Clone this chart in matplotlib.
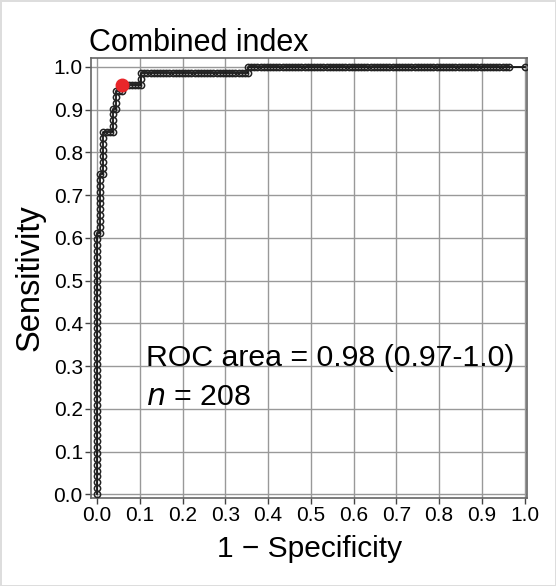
import numpy as np
import matplotlib.pyplot as plt

plt.rcParams['font.family'] = ['Liberation Sans', 'DejaVu Sans']

# Cases ranked by the combined index (highest first), run-length coded:
# label 1 = diseased, 0 = not diseased
run_label = [1, 0, 1, 0, 1, 0, 1, 0, 1, 0, 1, 0, 1, 0, 1, 0]
run_count = [44, 1, 10, 1, 7, 3, 4, 1, 3, 2, 1, 6, 2, 34, 1, 83]
tied_negatives = 5   # lowest scores, all tied -> one last step
cutoff_case = 69 + 8  # optimal cut-off (red point), cases above it
n_total = 208
roc_text = "ROC area = 0.98 (0.97-1.0)"

# Build the ROC points from the ranked outcomes
labels = np.repeat(run_label, run_count)
n_pos = labels.sum()
n_neg = len(labels) - n_pos + tied_negatives
tp = np.concatenate([[0], np.cumsum(labels), [n_pos]])
fp = np.concatenate([[0], np.cumsum(1 - labels), [n_neg]])
sens = tp / n_pos
fpr = fp / n_neg

fig = plt.figure(figsize=(5.56, 5.86), dpi=100)
fig.patch.set_edgecolor('#dddddd')
fig.patch.set_linewidth(2)
ax = fig.add_axes([0.164, 0.150, 0.784, 0.751])

ax.plot(fpr, sens, color='black', lw=1.2, marker='o', ms=4.5,
        mfc='none', mec='#222222', mew=1.1, zorder=3)
ax.plot(fpr[cutoff_case], sens[cutoff_case], 'o', color='#e8262a',
        ms=9, zorder=4)

ax.set_xlim(-0.014, 1.006)
ax.set_ylim(-0.009, 1.021)
ticks = np.round(np.arange(0, 1.01, 0.1), 1)
ax.set_xticks(ticks)
ax.set_yticks(ticks)
ax.set_xticklabels([f"{t:.1f}" for t in ticks], fontsize=15)
ax.set_yticklabels([f"{t:.1f}" for t in ticks], fontsize=15)
ax.tick_params(length=4, width=1, color='#444444', pad=2)
ax.grid(True, color='#999999', lw=1)
ax.set_axisbelow(True)
for s in ax.spines.values():
    s.set_color('#666666')
    s.set_linewidth(1.2)

ax.set_title("Combined index", loc='left', fontsize=22, pad=2, x=-0.005)
ax.set_xlabel("1 \u2212 Specificity", fontsize=21.5, labelpad=7)
ax.set_ylabel("Sensitivity", fontsize=23.5, labelpad=6)

ax.text(0.115, 0.318, roc_text, fontsize=21.8, va='center')
ax.text(0.115, 0.228, f"$n$ = {n_total}", fontsize=21.8, va='center')

fig.savefig("out.png", dpi=100)
